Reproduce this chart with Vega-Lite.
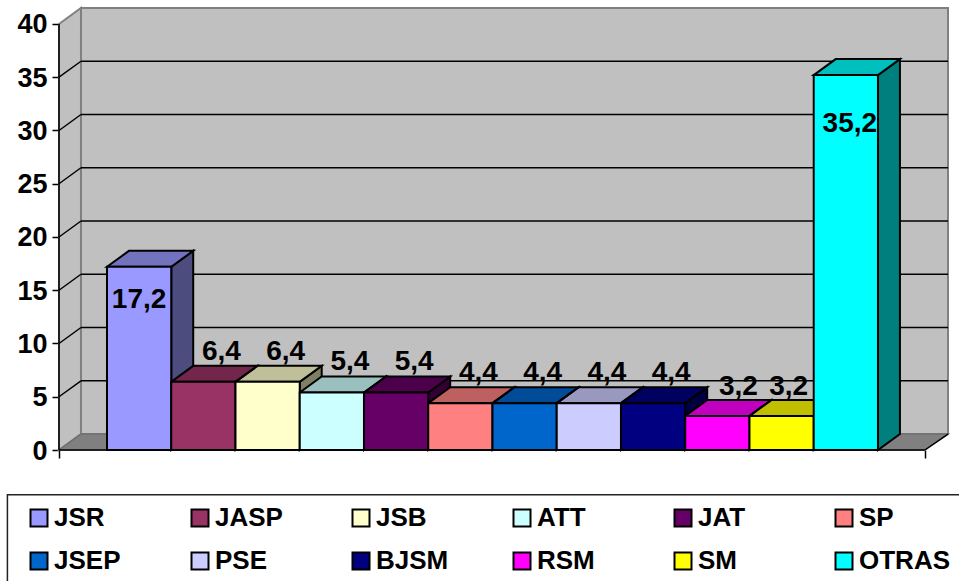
{
"$schema":"https://vega.github.io/schema/vega-lite/v6.json",
"width":889,"height":442,"autosize":"none",
"padding":{"left":59,"top":8,"right":11,"bottom":131},
"background":"white",
"config":{"view":{"stroke":null},"font":"Liberation Sans","text":{"font":"Liberation Sans"}},
"datasets":{
"bars":[
{"name":"JSR","value":17.2},{"name":"JASP","value":6.4},{"name":"JSB","value":6.4},{"name":"ATT","value":5.4},
{"name":"JAT","value":5.4},{"name":"SP","value":4.4},{"name":"JSEP","value":4.4},{"name":"PSE","value":4.4},
{"name":"BJSM","value":4.4},{"name":"RSM","value":3.2},{"name":"SM","value":3.2},{"name":"OTRAS","value":35.2}],
"ticks":[{"tick":5},{"tick":10},{"tick":15},{"tick":20},{"tick":25},{"tick":30},{"tick":35}]
},
"layer":[
{"data":{"values":[{"a":-0.405,"b":13.09,"c":1.5,"d":41.5}]},
 "mark":{"type":"rect","fill":"#c0c0c0","stroke":"#808080","strokeWidth":2},
 "encoding":{
  "x":{"field":"a","type":"quantitative","scale":{"domain":[-0.747,13.09],"nice":false,"zero":false},
   "axis":{"title":null,"values":[-0.747,12.73],"labels":false,"grid":false,"domain":false,"ticks":true,"tickColor":"black","tickWidth":1.5,"tickSize":8}},
  "x2":{"field":"b"},
  "y":{"field":"c","type":"quantitative","scale":{"domain":[0,41.5],"nice":false,"zero":false},
   "axis":{"title":null,"values":[0,5,10,15,20,25,30,35,40],"grid":false,"domain":false,"tickColor":"black","tickWidth":1.5,"tickSize":7,"labelFont":"Liberation Sans","labelFontWeight":"bold","labelFontSize":27,"labelColor":"black","labelPadding":5,"labelOffset":1}},
  "y2":{"field":"d"}}},
{"data":{"values":[{"x":-0.747,"y":40,"y0":0},{"x":-0.405,"y":41.5,"y0":1.5}]},
 "mark":{"type":"area","fill":"#c0c0c0","stroke":"#808080","strokeWidth":2},
 "encoding":{"x":{"field":"x","type":"quantitative"},"y":{"field":"y","type":"quantitative","stack":null},"y2":{"field":"y0"}}},
{"data":{"name":"ticks"},
 "transform":[{"calculate":"datum.tick+1.5","as":"back"},{"calculate":"-0.405","as":"xa"},{"calculate":"13.09","as":"xb"}],
 "mark":{"type":"rule","color":"black","strokeWidth":1.5},
 "encoding":{"x":{"field":"xa","type":"quantitative"},"x2":{"field":"xb"},"y":{"field":"back","type":"quantitative"}}},
{"data":{"name":"ticks"},
 "transform":[{"calculate":"datum.tick+1.5","as":"back"},{"calculate":"-0.747","as":"xa"},{"calculate":"-0.405","as":"xb"}],
 "mark":{"type":"rule","color":"black","strokeWidth":1.5},
 "encoding":{"x":{"field":"xa","type":"quantitative"},"x2":{"field":"xb"},"y":{"field":"tick","type":"quantitative"},"y2":{"field":"back"}}},
{"data":{"values":[{"x":-0.747,"y":0,"y0":0},{"x":-0.405,"y":1.5,"y0":0},{"x":12.73,"y":1.5,"y0":0},{"x":13.09,"y":1.5,"y0":1.5}]},
 "mark":{"type":"area","fill":"#808080","stroke":"#707070","strokeWidth":1.5},
 "encoding":{"x":{"field":"x","type":"quantitative"},"y":{"field":"y","type":"quantitative","stack":null},"y2":{"field":"y0"}}},
{"data":{"values":[{"x":12.73,"x2":13.09,"y":0,"y2":1.5}]},
 "mark":{"type":"rule","color":"black","strokeWidth":1.5},
 "encoding":{"x":{"field":"x","type":"quantitative"},"x2":{"field":"x2"},"y":{"field":"y","type":"quantitative"},"y2":{"field":"y2"}}},
{"data":{"values":[{"a":-1.55,"b":14.5,"c":-4.2,"d":-16}]},
 "mark":{"type":"rect","fill":null,"stroke":"#222222","strokeWidth":1.5},
 "encoding":{"x":{"field":"a","type":"quantitative"},"x2":{"field":"b"},"y":{"field":"c","type":"quantitative"},"y2":{"field":"d"}}},
{"data":{"name":"bars"},
 "transform":[{"window":[{"op":"row_number","as":"n"}]},
  {"calculate":"[datum.n,datum.n+0.342]","as":"vx"},{"calculate":"[datum.value,datum.value+1.5]","as":"vy"},{"calculate":"[0,1.5]","as":"vb"},
  {"flatten":["vx","vy","vb"]}],
 "layer":[
  {"mark":{"type":"area"},"encoding":{"x":{"field":"vx","type":"quantitative"},"y":{"field":"vy","type":"quantitative","stack":null},"y2":{"field":"vb"},
    "color":{"field":"name","type":"nominal","scale":{"domain":["JSR","JASP","JSB","ATT","JAT","SP","JSEP","PSE","BJSM","RSM","SM","OTRAS"],"range":["#9999ff","#993366","#ffffcc","#ccffff","#660066","#ff8080","#0066cc","#ccccff","#000080","#ff00ff","#ffff00","#00ffff"]},
    "legend":{"title":null,"orient":"none","legendX":-33,"legendY":497,"direction":"horizontal","columns":6,"gridAlign":"all","columnPadding":42,"rowPadding":17,"padding":0,"symbolType":"square","symbolSize":289,"symbolStrokeColor":"black","symbolStrokeWidth":2,"symbolOpacity":1,"labelFont":"Liberation Sans","labelFontWeight":"bold","labelFontSize":26,"labelColor":"black","labelOffset":2,"labelLimit":200}}}},
  {"mark":{"type":"area","fill":"black","fillOpacity":0.5,"stroke":"black","strokeWidth":2},"encoding":{"x":{"field":"vx","type":"quantitative"},"y":{"field":"vy","type":"quantitative","stack":null},"y2":{"field":"vb"},"detail":{"field":"name"}}}
 ]},
{"data":{"name":"bars"},
 "transform":[{"window":[{"op":"row_number","as":"n"}]},
  {"calculate":"[datum.n-1,datum.n-1+0.342,datum.n,datum.n+0.342]","as":"vx"},
  {"calculate":"[datum.value,datum.value+1.5,datum.value+1.5,datum.value+1.5]","as":"vy"},
  {"calculate":"[datum.value,datum.value,datum.value,datum.value+1.5]","as":"vb"},
  {"flatten":["vx","vy","vb"]}],
 "layer":[
  {"mark":{"type":"area"},"encoding":{"x":{"field":"vx","type":"quantitative"},"y":{"field":"vy","type":"quantitative","stack":null},"y2":{"field":"vb"},
    "color":{"field":"name","type":"nominal"}}},
  {"mark":{"type":"area","fill":"black","fillOpacity":0.25,"stroke":"black","strokeWidth":2},"encoding":{"x":{"field":"vx","type":"quantitative"},"y":{"field":"vy","type":"quantitative","stack":null},"y2":{"field":"vb"},"detail":{"field":"name"}}}
 ]},
{"data":{"name":"bars"},
 "transform":[{"window":[{"op":"row_number","as":"n"}]},{"calculate":"datum.n-1","as":"x0"}],
 "mark":{"type":"rect","stroke":"black","strokeWidth":2},
 "encoding":{"x":{"field":"x0","type":"quantitative"},"x2":{"field":"n"},"y":{"field":"value","type":"quantitative"},"y2":{"datum":0},
  "color":{"field":"name","type":"nominal"}}},
{"data":{"values":[{"x":-0.747,"x2":12.73,"y":0,"y2":0},{"x":-0.747,"x2":-0.747,"y":0,"y2":40}]},
 "mark":{"type":"rule","color":"black","strokeWidth":1.5},
 "encoding":{"x":{"field":"x","type":"quantitative"},"x2":{"field":"x2"},"y":{"field":"y","type":"quantitative"},"y2":{"field":"y2"}}},
{"data":{"name":"bars"},
 "transform":[{"window":[{"op":"row_number","as":"n"}]},{"calculate":"datum.n-0.5","as":"xc"},{"calculate":"replace(format(datum.value,'.1f'),'.',',')","as":"lab"}],
 "encoding":{"x":{"field":"xc","type":"quantitative"},"y":{"field":"value","type":"quantitative"},"text":{"field":"lab"}},
 "layer":[
  {"transform":[{"filter":"datum.name!='JSR'&&datum.name!='OTRAS'&&datum.name!='RSM'&&datum.name!='SM'"}],
   "mark":{"type":"text","font":"Liberation Sans","fontWeight":"bold","fontSize":28,"color":"black","dx":18,"dy":-30,"baseline":"middle"}},
  {"transform":[{"filter":"datum.name=='RSM'"}],
   "mark":{"type":"text","font":"Liberation Sans","fontWeight":"bold","fontSize":28,"color":"black","dx":21,"dy":-29,"baseline":"middle"}},
  {"transform":[{"filter":"datum.name=='SM'"}],
   "mark":{"type":"text","font":"Liberation Sans","fontWeight":"bold","fontSize":28,"color":"black","dx":7,"dy":-29,"baseline":"middle"}},
  {"transform":[{"filter":"datum.name=='JSR'"}],
   "mark":{"type":"text","font":"Liberation Sans","fontWeight":"bold","fontSize":28,"color":"black","dx":0,"dy":33,"baseline":"middle"}},
  {"transform":[{"filter":"datum.name=='OTRAS'"}],
   "mark":{"type":"text","font":"Liberation Sans","fontWeight":"bold","fontSize":28,"color":"black","dx":4,"dy":49,"baseline":"middle"}}
 ]}
]
}
